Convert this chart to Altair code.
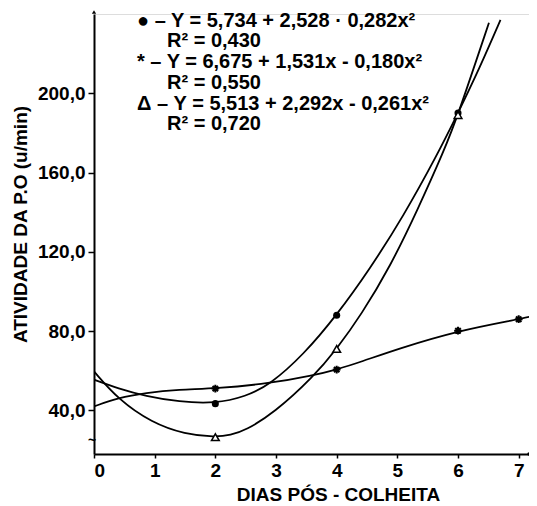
import altair as alt
import pandas as pd

FONT = "Liberation Sans, Arial, Helvetica, DejaVu Sans, sans-serif"

# Fitted curves
circ_curve_x = [0, 0.4, 0.85, 1.4, 2.0, 2.5, 2.9, 3.45, 4.0, 4.55, 5.1, 5.65, 6.0, 6.36, 6.7]
circ_curve_y = [55.5, 51, 47.2, 44.3, 43.4, 47, 53, 68, 88, 111.5, 138, 168.5, 190, 213, 237]
tri_curve_x = [0, 0.4, 0.95, 1.5, 2.0, 2.25, 2.5, 2.96, 3.62, 4.0, 4.4, 4.89, 5.33, 5.77, 6.0, 6.51]
tri_curve_y = [59.7, 45.5, 33.8, 27.9, 26.5, 27.5, 30, 38.5, 57, 71, 88, 113, 141, 171, 189, 235.6]
star_curve_x = [0, 0.4, 0.85, 1.4, 2.0, 2.9, 3.6, 4.0, 4.4, 5.0, 6.0, 7.0, 7.25]
star_curve_y = [42, 46.4, 48.9, 50.6, 51, 53.6, 57.6, 60.6, 64.5, 71, 80.2, 86, 87.7]

# Observed points
circ_pts_x = [2, 4, 6]
circ_pts_y = [43.4, 88, 190]
tri_pts_x = [2, 4, 6]
tri_pts_y = [26.5, 71, 189]
star_pts_x = [2, 4, 6, 7]
star_pts_y = [51, 60.6, 80.2, 86]

x_ticks = [0, 1, 2, 3, 4, 5, 6, 7]
y_ticks = [40, 80, 120, 160, 200]

legend_lines = [
    "● – Y  = 5,734 + 2,528 · 0,282x²",
    "R² = 0,430",
    "* – Y  = 6,675 + 1,531x - 0,180x²",
    "R² = 0,550",
    "Δ – Y  = 5,513 + 2,292x - 0,261x²",
    "R² = 0,720",
]

curves = pd.concat([
    pd.DataFrame({"x": circ_curve_x, "y": circ_curve_y, "s": "circ"}),
    pd.DataFrame({"x": tri_curve_x, "y": tri_curve_y, "s": "tri"}),
    pd.DataFrame({"x": star_curve_x, "y": star_curve_y, "s": "star"}),
])

xs = alt.Scale(domain=[0, 7.17], nice=False, zero=False)
ys = alt.Scale(domain=[18, 240], nice=False, zero=False)

xaxis = alt.Axis(
    values=x_ticks, format="d", labelFont=FONT, labelFontSize=19, labelFontWeight="bold",
    labelColor="black", labelPadding=3, tickSize=4, tickWidth=1.5, tickColor="black",
    domainColor="black", domainWidth=2, grid=False,
    title="DIAS PÓS - COLHEITA", titleFont=FONT, titleFontSize=19, titleFontWeight="bold",
    titleColor="black", titleX=244, titleY=46, titleBaseline="alphabetic", titleAlign="center",
)
yaxis = alt.Axis(
    values=y_ticks, labelExpr="replace(format(datum.value, '.1f'), '.', ',')",
    labelFont=FONT, labelFontSize=19, labelFontWeight="bold", labelColor="black",
    labelPadding=3, tickSize=6, tickWidth=1.5, tickColor="black",
    domainColor="black", domainWidth=2, grid=False,
    title="ATIVIDADE DA P.O (u/min)", titleFont=FONT, titleFontSize=19, titleFontWeight="bold",
    titleColor="black", titleAngle=270, titleX=-68, titleY=210, titleBaseline="alphabetic",
    titleAlign="center",
)

lines = alt.Chart(curves).mark_line(
    color="black", strokeWidth=1.8, interpolate="basis", clip=True
).encode(
    x=alt.X("x:Q", scale=xs, axis=xaxis),
    y=alt.Y("y:Q", scale=ys, axis=yaxis),
    detail="s:N",
)

circ = alt.Chart(pd.DataFrame({"x": circ_pts_x, "y": circ_pts_y})).mark_point(
    shape="circle", filled=True, color="black", size=50, opacity=1
).encode(x=alt.X("x:Q", scale=xs), y=alt.Y("y:Q", scale=ys))

tri = alt.Chart(pd.DataFrame({"x": tri_pts_x, "y": tri_pts_y})).mark_point(
    shape="triangle-up", filled=True, fill="white", stroke="black", strokeWidth=1.5, size=60, opacity=1
).encode(x=alt.X("x:Q", scale=xs), y=alt.Y("y:Q", scale=ys))

star_path = "M-1,0L1,0M0,-1L0,1M-0.7,-0.7L0.7,0.7M-0.7,0.7L0.7,-0.7"
star = alt.Chart(pd.DataFrame({"x": star_pts_x, "y": star_pts_y})).mark_point(
    shape=star_path, filled=False, stroke="black", strokeWidth=2, size=60, opacity=1
).encode(x=alt.X("x:Q", scale=xs), y=alt.Y("y:Q", scale=ys))

arrow = alt.Chart(pd.DataFrame({"a": [0]})).mark_point(
    shape="triangle-up", filled=True, color="black", size=18, opacity=1
).encode(x=alt.value(0), y=alt.value(-2))

enddot = alt.Chart(pd.DataFrame({"a": [0]})).mark_point(
    shape="circle", filled=True, color="black", size=12, opacity=1
).encode(x=alt.value(435), y=alt.value(440))

brk = alt.Chart(pd.DataFrame({"t": ["~"]})).mark_text(
    font=FONT, fontSize=14, fontWeight="bold", color="black", align="center", baseline="middle"
).encode(x=alt.value(-2), y=alt.value(427), text="t:N")

legend_pos = [(43, 12.5), (73, 33), (43, 54), (73, 74.5), (43, 96), (73, 116)]
texts = []
for t, (px, py) in zip(legend_lines, legend_pos):
    texts.append(
        alt.Chart(pd.DataFrame({"t": [t]})).mark_text(
            font=FONT, fontSize=20, fontWeight="bold", color="black",
            align="left", baseline="alphabetic",
        ).encode(x=alt.value(px), y=alt.value(py), text="t:N")
    )

chart = alt.layer(lines, circ, tri, star, arrow, enddot, brk, *texts).properties(
    width=435, height=440,
    autosize=alt.AutoSizeParams(type="none"),
    padding={"left": 86, "top": 6, "right": 0, "bottom": 50},
).configure_view(stroke=None).configure(background="white")

chart.save("out.html", embed_options={"renderer": "svg", "actions": False})
